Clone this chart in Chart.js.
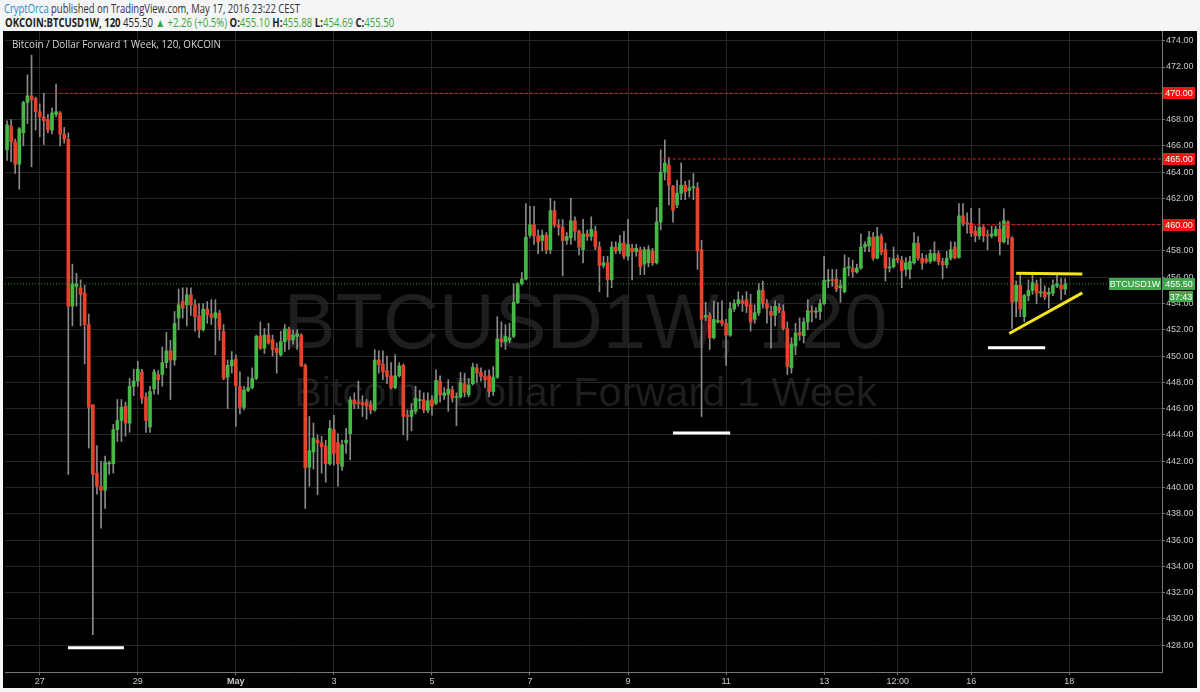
<!DOCTYPE html>
<html>
<head>
<meta charset="utf-8">
<title>OKCOIN:BTCUSD1W, 120</title>
<script src="https://cdn.jsdelivr.net/npm/chart.js@4"></script>
<style>
  body { margin: 0; background: #f3f5f6; width: 1200px; height: 692px; overflow: hidden; font-family: "Open Sans", Arial, sans-serif; }
  .fit { position: absolute; white-space: nowrap; transform-origin: 0 50%; }
  #head1 { left: 4px; top: 0px; font-size: 12.5px; color: #333; }
  #head1 .user { color: #2a8cc8; }
  #head2 { left: 5px; top: 14px; font-size: 12px; color: #222; }
  #head2 b { font-weight: bold; }
  #head2 .g { color: #3aa53a; }
  #panel { position: absolute; left: 3px; top: 31px; width: 1194px; height: 657px; background: #000; }
  #title { left: 12px; top: 37px; font-size: 10.5px; color: #d6d6d6; z-index: 2; }
</style>
</head>
<body>
<div id="head1" class="fit" data-w="296"><span class="user">CryptOrca</span> published on TradingView.com, May 17, 2016 23:22 CEST</div>
<div id="head2" class="fit" data-w="389"><b>OKCOIN:BTCUSD1W, 120</b> 455.50 <span class="g">&#9650; +2.26 (+0.5%)</span> <b>O:</b><span class="g">455.10</span> <b>H:</b><span class="g">455.88</span> <b>L:</b><span class="g">454.69</span> <b>C:</b><span class="g">455.50</span></div>
<div id="panel"><canvas id="chart"></canvas></div>
<div id="title" class="fit" data-w="209">Bitcoin / Dollar Forward 1 Week, 120, OKCOIN</div>
<script>
// squeeze header lines to the widths they have in the screenshot
document.querySelectorAll('.fit').forEach(el => {
    const w = el.getBoundingClientRect().width;
    el.style.transform = 'scaleX(' + (Number(el.dataset.w) / w).toFixed(3) + ')';
});

// 2 hour candles, x in hours counted from Apr 27 00:00
const barHours = 2;
const firstBarHour = -16; // Apr 26 16:00

const xTickHours = [0, 48, 96, 144, 192, 240, 288, 336, 384, 420, 456, 504];
const xTickText = ['27', '29', 'May', '3', '5', '7', '9', '11', '13', '12:00', '16', '18'];
const yTickValues = [428, 430, 432, 434, 436, 438, 440, 442, 444, 446, 448, 450,
    452, 454, 456, 458, 460, 462, 464, 466, 468, 470, 472, 474];

const openP = [
    465.7, 467.5, 466.3, 464.6, 467.0, 469.3, 469.8, 469.6, 468.6, 468.2,
    468.0, 467.2, 468.4, 468.5, 466.9, 466.5, 453.8, 455.3, 455.2, 454.8,
    452.4, 446.3, 441.1, 440.1, 439.8, 441.8, 441.8, 444.4, 445.1, 446.2,
    444.9, 447.7, 448.1, 448.8, 446.9, 444.6, 447.5, 448.6, 448.6, 449.5,
    450.4, 449.7, 452.9, 454.15, 453.9, 454.66, 453.9, 453.06, 452.0, 453.57,
    453.2, 452.9, 453.26, 451.87, 448.4, 449.26, 449.77, 447.69, 446.1, 447.38,
    447.6, 448.3, 451.54, 450.6, 451.6, 451.24, 450.6, 450.1, 451.1, 452.05,
    451.24, 451.5, 451.6, 449.3, 441.56, 442.7, 443.6, 443.4, 443.17, 441.8,
    444.4, 443.43, 441.6, 443.4, 444.1, 446.67, 446.5, 446.47, 446.5, 446.3,
    445.9, 449.72, 449.4, 448.9, 448.5, 447.6, 448.5, 449.3, 445.5, 445.4,
    445.8, 446.6, 446.68, 445.87, 446.68, 446.4, 448.07, 447.0, 447.1, 447.44,
    446.85, 446.9, 447.9, 447.06, 447.9, 449.1, 448.76, 448.45, 448.5, 447.3,
    448.4, 451.3, 451.1, 451.2, 451.5, 454.08, 455.5, 455.86, 459.2, 459.99,
    459.15, 458.8, 459.2, 458.1, 461.08, 459.99, 459.8, 458.8, 459.0, 460.3,
    459.5, 458.1, 459.3, 459.1, 459.5, 458.3, 456.9, 457.1, 455.8, 458.3,
    458.0, 458.6, 457.6, 458.2, 457.95, 458.1, 457.0, 457.1, 457.96, 457.1,
    460.2, 464.0, 464.55, 462.95, 461.5, 462.4, 463.0, 462.6, 462.8, 462.8,
    458.1, 452.96, 453.1, 451.4, 452.6, 452.7, 452.5, 451.6, 453.6, 454.0,
    454.2, 454.3, 453.9, 452.8, 453.3, 455.0, 454.0, 453.4, 453.1, 453.7,
    453.4, 452.1, 449.1, 450.8, 451.8, 451.55, 452.6, 453.45, 453.35, 453.4,
    454.0, 455.7, 455.8, 455.85, 455.2, 454.9, 456.7, 456.7, 456.4, 456.7,
    458.3, 458.4, 459.05, 457.45, 459.1, 458.1, 456.7, 456.8, 457.45, 457.3,
    456.6, 456.6, 457.1, 458.6, 457.45, 457.4, 457.2, 457.3, 457.8, 457.2,
    456.95, 457.45, 458.3, 457.5, 460.67, 460.16, 460.1, 459.5, 459.15, 459.8,
    459.2, 459.15, 459.2, 459.66, 458.7, 460.2, 459.0, 454.16, 455.4, 453.0,
    454.6, 455.0, 455.5, 454.8, 454.9, 454.7, 454.8, 455.35, 455.4, 455.10
];
const highP = [
    467.9, 468.0, 466.5, 467.4, 469.4, 471.4, 472.9, 469.7, 469.2, 470.0,
    468.4, 468.9, 470.7, 468.6, 467.4, 467.0, 457.0, 456.3, 455.8, 455.4,
    453.2, 446.3, 443.2, 442.0, 442.4, 442.0, 444.8, 446.7, 446.7, 446.5,
    448.3, 449.0, 449.6, 449.0, 447.2, 447.7, 449.0, 448.9, 450.7, 451.8,
    451.2, 453.4, 455.1, 455.2, 455.2, 455.2, 454.3, 454.0, 454.0, 454.15,
    454.3, 454.3, 453.5, 452.4, 449.7, 450.35, 450.1, 448.8, 447.7, 448.4,
    449.1, 451.6, 452.6, 452.1, 452.5, 451.6, 451.0, 451.9, 452.4, 452.2,
    452.0, 452.0, 451.7, 449.4, 445.4, 444.9, 444.0, 443.9, 443.6, 445.1,
    445.5, 444.1, 443.6, 444.5, 446.9, 447.2, 448.1, 447.0, 446.7, 446.6,
    450.5, 450.4, 450.4, 450.0, 449.5, 450.1, 449.5, 449.4, 445.9, 446.4,
    447.7, 447.4, 447.2, 447.2, 447.0, 448.96, 448.5, 447.6, 448.2, 447.7,
    447.2, 448.76, 448.7, 448.3, 449.47, 449.4, 449.1, 448.9, 448.96, 449.2,
    453.0, 452.6, 452.4, 452.5, 455.5, 455.6, 456.36, 461.6, 461.4, 461.4,
    459.6, 459.6, 459.4, 462.0, 461.8, 460.4, 460.4, 459.4, 462.0, 460.6,
    459.6, 460.4, 459.6, 460.6, 459.9, 458.7, 457.6, 457.6, 458.7, 458.7,
    459.2, 459.5, 460.4, 458.5, 458.5, 458.3, 458.3, 458.4, 458.2, 461.3,
    465.7, 466.45, 465.1, 463.0, 463.4, 464.7, 463.3, 463.4, 463.9, 463.2,
    458.8, 454.1, 453.3, 454.2, 454.1, 454.2, 452.8, 454.1, 454.3, 454.9,
    454.6, 454.9, 454.7, 453.9, 455.55, 455.7, 454.3, 453.8, 454.2, 454.0,
    453.9, 452.6, 451.4, 452.5, 452.9, 452.9, 454.3, 453.8, 453.7, 454.3,
    457.6, 456.6, 456.6, 456.6, 455.8, 457.7, 457.5, 457.3, 457.0, 459.3,
    458.7, 459.5, 459.4, 459.8, 459.3, 458.6, 457.5, 458.3, 457.7, 457.6,
    457.5, 457.6, 459.4, 459.1, 457.8, 457.7, 458.1, 458.7, 458.0, 457.45,
    457.96, 458.7, 458.7, 461.6, 461.6, 460.9, 461.25, 459.9, 461.25, 460.0,
    459.6, 459.9, 459.9, 460.2, 461.2, 460.3, 459.1, 455.7, 456.2, 454.7,
    455.8, 456.2, 455.8, 455.9, 455.35, 455.2, 455.8, 456.2, 455.9, 455.88
];
const lowP = [
    464.9, 464.8, 463.9, 462.7, 466.0, 467.7, 464.4, 467.2, 466.7, 466.1,
    467.0, 466.9, 468.2, 466.0, 466.2, 441.0, 452.3, 453.8, 452.3, 449.4,
    443.0, 428.8, 439.5, 436.9, 438.4, 441.0, 441.1, 443.5, 443.5, 443.9,
    444.2, 447.0, 447.7, 446.4, 444.2, 444.2, 447.1, 447.1, 447.7, 449.1,
    446.7, 449.3, 452.0, 452.9, 452.3, 453.1, 451.9, 451.4, 451.9, 452.5,
    452.4, 450.1, 451.2, 448.2, 446.0, 448.7, 444.65, 445.6, 445.9, 447.3,
    447.5, 448.2, 450.5, 450.2, 450.9, 450.0, 448.7, 450.0, 450.35, 450.5,
    450.9, 450.5, 449.2, 438.4, 440.1, 441.4, 439.45, 441.1, 440.4, 441.7,
    441.7, 440.1, 441.3, 442.6, 442.1, 446.0, 446.0, 445.4, 445.2, 445.6,
    445.8, 448.7, 448.2, 447.9, 447.5, 447.5, 448.4, 444.0, 443.6, 444.3,
    445.6, 446.0, 445.7, 445.7, 445.5, 446.3, 446.5, 446.7, 445.8, 446.5,
    444.7, 446.8, 446.9, 446.9, 447.8, 448.0, 448.1, 447.6, 446.9, 447.0,
    448.3, 450.7, 450.5, 451.0, 451.4, 454.0, 455.4, 455.8, 459.05, 458.5,
    457.8, 458.0, 457.8, 457.8, 459.8, 459.2, 456.1, 458.5, 458.5, 458.8,
    457.7, 457.1, 458.8, 458.8, 458.1, 454.9, 456.7, 454.5, 455.2, 457.8,
    457.8, 457.4, 457.3, 455.8, 457.6, 456.2, 456.2, 456.8, 456.9, 457.0,
    459.6, 463.4, 461.5, 460.2, 461.3, 461.9, 461.9, 462.1, 461.9, 456.6,
    445.4, 452.7, 450.5, 451.3, 452.5, 452.3, 449.3, 451.5, 453.4, 453.8,
    453.4, 453.3, 451.9, 452.5, 453.1, 453.65, 452.5, 450.6, 452.3, 453.3,
    452.0, 448.6, 448.7, 450.1, 451.2, 451.0, 452.0, 452.6, 452.9, 452.8,
    453.9, 455.2, 455.3, 454.9, 454.1, 454.8, 456.1, 456.0, 456.3, 456.6,
    457.95, 457.95, 457.3, 457.4, 457.7, 455.7, 456.4, 456.7, 457.1, 455.2,
    456.1, 455.9, 457.0, 457.3, 456.6, 457.07, 457.07, 457.2, 456.95, 455.9,
    456.7, 457.3, 457.4, 457.45, 459.9, 459.35, 459.1, 458.7, 458.9, 458.7,
    458.1, 459.0, 459.1, 457.7, 458.6, 458.5, 452.1, 453.0, 453.0, 452.6,
    454.2, 454.7, 454.0, 454.5, 454.3, 453.65, 454.6, 455.2, 454.3, 454.69
];
const closeP = [
    467.6, 466.3, 464.6, 467.3, 469.3, 469.8, 469.5, 468.6, 468.2, 467.9,
    467.2, 468.5, 468.6, 466.9, 466.5, 453.8, 455.5, 455.5, 454.7, 452.4,
    446.1, 441.0, 440.1, 439.8, 441.9, 441.8, 444.4, 445.1, 446.1, 444.9,
    447.7, 448.1, 449.0, 446.8, 445.1, 447.3, 448.8, 448.2, 449.5, 450.4,
    449.7, 452.5, 453.9, 453.64, 454.66, 453.9, 453.0, 452.0, 453.57, 453.14,
    452.96, 453.3, 452.05, 448.3, 449.3, 449.7, 447.74, 446.1, 447.43, 447.6,
    448.3, 451.5, 450.6, 451.6, 451.0, 450.5, 450.27, 451.1, 452.05, 451.24,
    451.6, 451.7, 449.26, 441.5, 442.8, 443.76, 443.4, 443.1, 441.8, 444.5,
    442.6, 441.8, 443.25, 443.6, 446.67, 446.4, 446.4, 446.3, 446.2, 445.9,
    449.7, 449.34, 448.8, 448.45, 447.6, 448.5, 449.26, 445.4, 445.4, 445.87,
    446.8, 446.7, 445.9, 446.6, 446.2, 448.15, 447.06, 447.2, 447.5, 446.8,
    446.9, 448.0, 447.24, 447.8, 449.16, 448.7, 448.45, 448.2, 447.3, 448.4,
    451.3, 451.1, 451.5, 451.4, 454.1, 455.5, 455.86, 459.05, 459.99, 459.15,
    458.7, 459.2, 458.1, 461.08, 459.99, 459.8, 458.8, 459.1, 460.3, 459.5,
    458.3, 459.3, 459.1, 459.65, 458.3, 456.9, 457.1, 455.8, 458.3, 458.0,
    458.6, 457.6, 458.5, 457.95, 458.2, 456.8, 458.1, 458.1, 457.1, 460.2,
    464.0, 464.7, 463.0, 461.1, 462.4, 463.0, 462.5, 462.8, 462.9, 458.0,
    452.8, 453.1, 451.4, 452.8, 452.7, 452.5, 451.6, 453.6, 454.0, 454.3,
    454.0, 453.8, 452.6, 453.3, 455.0, 454.0, 453.65, 453.1, 453.8, 453.5,
    452.1, 449.2, 450.9, 451.75, 451.6, 452.6, 453.45, 453.35, 453.4, 454.0,
    455.75, 455.8, 455.75, 455.1, 455.35, 456.7, 456.8, 456.4, 456.7, 458.3,
    458.5, 459.05, 457.45, 459.1, 457.9, 456.7, 456.8, 457.4, 457.3, 456.5,
    457.1, 457.2, 458.6, 457.45, 457.07, 457.2, 457.8, 457.8, 457.2, 456.95,
    457.45, 458.1, 457.5, 460.67, 460.1, 460.04, 459.35, 459.15, 459.8, 459.15,
    459.15, 459.3, 459.66, 458.7, 460.3, 459.0, 454.1, 455.4, 453.6, 454.6,
    455.0, 455.6, 454.8, 454.9, 454.5, 454.85, 455.4, 455.5, 455.1, 455.50
];

// drawn levels and marks, in (hour, price)
const levelPrices = [470, 465, 460];
const levelFromHour = [7.4, 305, 456.4];
const lastPrice = 455.5;
const whiteBarPrices = [427.8, 444.14, 450.63];
const whiteBarFrom = [13.8, 310, 464.2];
const whiteBarTo = [41.2, 338, 492.2];
const triTopHours = [478, 510.4];
const triTopPrices = [456.3, 456.24];
const triBaseHours = [474.6, 510.4];
const triBasePrices = [451.72, 454.81];

const symbolName = 'BTCUSD1W';
const countdown = '37:43';
const watermarkMain = 'BTCUSD1W, 120';
const watermarkSub = 'Bitcoin / Dollar Forward 1 Week';

const xMin = -17, xMax = 549.4;

const hours = openP.map((o, k) => firstBarHour + k * barHours);
const isUp = openP.map((o, k) => closeP[k] >= o);
const wickData = hours.map((h, k) => ({ x: h, y: [lowP[k], highP[k]] }));
const bodyData = hours.map((h, k) => ({ x: h, y: [openP[k], closeP[k]] }));

function segment(x1, y1, x2, y2, color, width, dash) {
    return {
        type: 'line',
        data: [{ x: x1, y: y1 }, { x: x2, y: y2 }],
        borderColor: color,
        borderWidth: width,
        borderDash: dash || [],
        borderCapStyle: 'butt',
        pointRadius: 0,
        order: 1
    };
}

const lineSets = [];
lineSets.push(segment(xMin, lastPrice, xMax, lastPrice, '#2f9a3c', 1, [1, 2]));
levelPrices.forEach((p, k) => lineSets.push(segment(levelFromHour[k], p, xMax, p, '#e21b1b', 1, [3, 2])));
whiteBarPrices.forEach((p, k) => lineSets.push(segment(whiteBarFrom[k], p, whiteBarTo[k], p, '#ffffff', 3)));
lineSets.push(segment(triTopHours[0], triTopPrices[0], triTopHours[1], triTopPrices[1], '#f4e41c', 3));
lineSets.push(segment(triBaseHours[0], triBasePrices[0], triBaseHours[1], triBasePrices[1], '#f4e41c', 3));

function fitFont(ctx, text, width, family) {
    ctx.font = '100px ' + family;
    const size = 100 * width / ctx.measureText(text).width;
    ctx.font = size.toFixed(1) + 'px ' + family;
}

function drawTag(ctx, x, yc, w, h, color, text) {
    ctx.fillStyle = color;
    ctx.fillRect(x, Math.round(yc - h / 2), w, h);
    ctx.fillStyle = '#ffffff';
    ctx.fillText(text, x + w / 2, yc + 0.5);
}

const panelPlugin = {
    id: 'panel',
    beforeDraw(chart) {
        const { ctx, chartArea: a } = chart;
        const cx = (a.left + a.right) / 2;
        const cy = (a.top + a.bottom) / 2;
        ctx.save();
        ctx.fillStyle = '#1e1e1e';
        ctx.textAlign = 'center';
        ctx.textBaseline = 'middle';
        fitFont(ctx, watermarkMain, 604, '"Liberation Sans", Arial, sans-serif');
        ctx.fillText(watermarkMain, cx + 2, cy - 25);
        fitFont(ctx, watermarkSub, 583, '"Liberation Sans", Arial, sans-serif');
        ctx.fillText(watermarkSub, cx + 2, cy + 43);
        ctx.restore();
    },
    afterDraw(chart) {
        const { ctx, chartArea: a, scales: { y } } = chart;
        ctx.save();
        ctx.font = '9px Arial, sans-serif';
        ctx.textAlign = 'center';
        ctx.textBaseline = 'middle';
        levelPrices.forEach(p => drawTag(ctx, a.right + 1, y.getPixelForValue(p), 32, 12, '#f01414', p.toFixed(2)));
        const py = y.getPixelForValue(lastPrice);
        drawTag(ctx, a.right + 1, py, 32, 12, '#3ea84a', lastPrice.toFixed(2));
        drawTag(ctx, a.right + 7, py + 13, 24, 11, '#3ea84a', countdown);
        drawTag(ctx, a.right - 53, py, 52, 12, '#3ea84a', symbolName);
        ctx.restore();
    }
};

Chart.defaults.font.family = 'Arial, "Liberation Sans", sans-serif';

const ctx = document.getElementById('chart').getContext('2d');
const chart = new Chart(ctx, {
    type: 'bar',
    data: {
        datasets: [
            {
                label: 'wick',
                data: wickData,
                backgroundColor: '#8a8a8a',
                barThickness: 1,
                grouped: false,
                order: 3
            },
            {
                label: 'body',
                data: bodyData,
                backgroundColor: isUp.map(u => u ? '#45b845' : '#e8412c'),
                barThickness: 3,
                minBarLength: 1,
                grouped: false,
                order: 2
            },
            ...lineSets
        ]
    },
    options: {
        animation: false,
        responsive: true,
        maintainAspectRatio: false,
        layout: { padding: { left: 2, top: 0, right: 0, bottom: 0 } },
        plugins: {
            legend: { display: false },
            tooltip: { enabled: false }
        },
        scales: {
            x: {
                type: 'linear',
                offset: false,
                min: xMin,
                max: xMax,
                afterBuildTicks: s => { s.ticks = xTickHours.map(v => ({ value: v })); },
                afterFit: s => { s.height = 16; s.paddingLeft = 0; s.paddingRight = 0; },
                grid: { offset: false, color: '#262626', tickColor: '#777', tickLength: 3 },
                border: { color: '#777' },
                ticks: {
                    autoSkip: false,
                    maxRotation: 0,
                    padding: 1,
                    color: '#c8c8c8',
                    font: c => ({ size: 9, weight: xTickText[c.index] === 'May' ? 'bold' : 'normal' }),
                    callback: (v, i) => xTickText[i]
                }
            },
            y: {
                position: 'right',
                min: 425.96,
                max: 474.74,
                afterBuildTicks: s => { s.ticks = yTickValues.map(v => ({ value: v })); },
                afterFit: s => { s.width = 35; s.paddingTop = 0; s.paddingBottom = 0; },
                grid: { color: '#262626', tickColor: '#777', tickLength: 3 },
                border: { color: '#777' },
                ticks: {
                    padding: 1,
                    color: '#c8c8c8',
                    font: { size: 9 },
                    callback: v => v.toFixed(2)
                }
            }
        }
    },
    plugins: [panelPlugin]
});
</script>
</body>
</html>
